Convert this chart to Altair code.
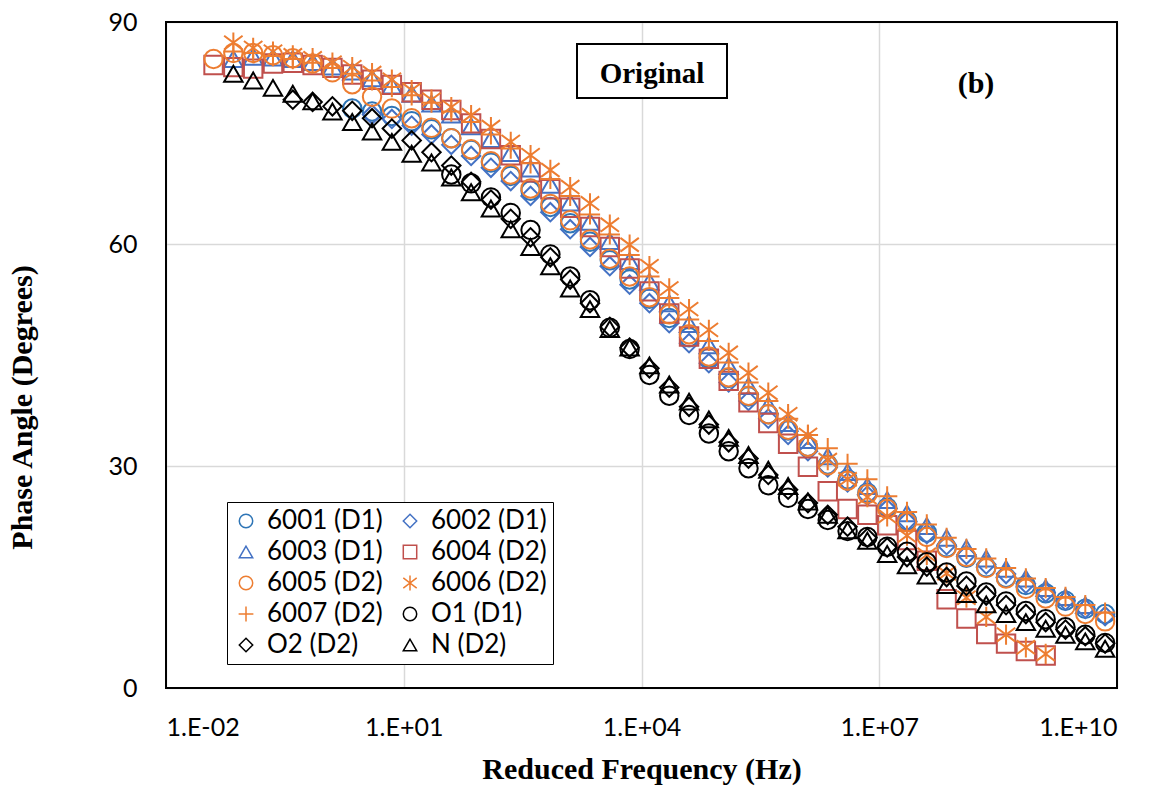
import altair as alt
import pandas as pd

# log10 of reduced frequency at the measured points (shared grid)
LOG_F = [-1.40, -1.15, -0.90, -0.65, -0.40, -0.15, 0.10, 0.35, 0.60, 0.85,
         1.10, 1.35, 1.60, 1.85, 2.10, 2.35, 2.60, 2.85, 3.10, 3.35,
         3.60, 3.85, 4.10, 4.35, 4.60, 4.85, 5.10, 5.35, 5.60, 5.85,
         6.10, 6.35, 6.60, 6.85, 7.10, 7.35, 7.60, 7.85, 8.10, 8.35,
         8.60, 8.85, 9.10, 9.35, 9.60, 9.85]

SERIES = ["6001 (D1)", "6002 (D1)", "6003 (D1)", "6004 (D2)", "6005 (D2)",
          "6006 (D2)", "6007 (D2)", "O1 (D1)", "O2 (D2)", "N (D2)"]

START = [7, 8, 1, 0, 0, 1, 1, 12, 4, 1]

Y_6001 = [78.3, 77.9, 77.3, 76.6, 75.5, 74.3, 72.7, 71.0, 69.2, 67.2, 65.0, 62.8, 60.3,
          57.8, 55.2, 52.6, 50.0, 47.4, 44.6, 41.9, 39.4, 37.0, 34.8, 32.6, 30.2, 28.2,
          26.4, 24.4, 22.6, 21.0, 19.0, 17.6, 16.3, 14.9, 13.9, 12.8, 11.8, 10.7, 10.0]
Y_6002 = [77.5, 76.9, 76.0, 74.8, 73.4, 71.9, 70.3, 68.5, 66.5, 64.3, 62.0, 59.6, 57.0,
          54.5, 52.0, 49.3, 46.6, 43.9, 41.3, 38.8, 36.4, 34.2, 32.0, 29.8, 27.8, 26.0,
          24.2, 22.5, 20.8, 19.3, 18.0, 16.7, 15.4, 14.1, 12.9, 11.8, 10.7, 9.7]
Y_6003 = [85.0, 85.3, 85.2, 85.0, 84.6, 84.0, 83.3, 82.4, 81.4, 80.3, 79.0, 77.5, 75.9,
          74.2, 72.3, 70.2, 68.0, 65.6, 63.0, 60.4, 57.7, 54.9, 52.0, 49.2, 46.3, 43.5,
          40.8, 38.2, 35.8, 33.5, 31.3, 29.2, 27.3, 25.4, 23.6, 21.9, 20.3, 18.9, 17.5,
          16.1, 14.8, 13.5, 12.3, 11.2]
Y_6004 = [84.2, 83.9, 83.7, 84.4, 84.5, 84.2, 83.8, 82.9, 82.2, 81.5, 80.5, 79.5, 78.1,
          76.3, 74.2, 72.0, 69.7, 67.4, 64.9, 62.3, 59.6, 56.7, 53.6, 50.6, 47.5, 44.5,
          41.5, 38.6, 35.8, 33.0, 29.9, 26.6, 24.2, 23.4, 22.0, 20.0, 17.2, 12.0, 9.4,
          7.3, 6.0, 5.0, 4.4]
Y_6005 = [85.0, 85.8, 85.8, 85.5, 85.1, 84.4, 83.2, 81.6, 79.9, 78.3, 77.0, 75.7, 74.3,
          72.8, 71.2, 69.4, 67.5, 65.4, 63.2, 60.6, 58.0, 55.6, 52.8, 50.5, 47.8, 44.8,
          42.0, 39.5, 37.0, 34.9, 32.6, 30.1, 28.0, 26.2, 24.2, 22.4, 20.4, 18.9, 17.7,
          16.2, 14.8, 13.4, 12.1, 11.0, 10.0, 9.0]
Y_6006 = [87.2, 86.5, 86.0, 85.5, 85.1, 84.5, 83.9, 83.1, 82.2, 80.8, 79.5, 78.5, 77.4,
          75.8, 73.8, 72.0, 70.0, 67.7, 65.5, 62.6, 59.9, 57.0, 54.0, 51.2, 48.4, 45.3,
          42.6, 39.9, 37.0, 34.2, 30.8, 28.2, 25.8, 23.2, 20.6, 18.0, 15.5, 12.2, 9.6,
          7.2, 5.5, 4.6]
Y_6007 = [86.0, 85.8, 85.4, 85.0, 84.5, 83.8, 83.0, 82.1, 81.2, 80.1, 79.1, 77.9, 76.5,
          74.8, 72.9, 70.9, 68.8, 66.5, 64.0, 61.3, 58.5, 55.6, 52.7, 49.8, 46.9, 44.0,
          41.3, 38.8, 36.4, 34.2, 32.4, 30.3, 28.2, 25.9, 23.8, 22.1, 20.3, 18.8, 17.5,
          16.2, 14.8, 13.5, 12.3, 11.2, 10.2]
Y_O1 = [69.4, 68.2, 66.3, 64.2, 61.9, 58.6, 55.6, 52.4, 48.7, 45.8, 42.3, 39.5, 36.9,
        34.4, 32.0, 29.7, 27.4, 25.7, 24.2, 22.7, 21.2, 20.4, 19.1, 18.4, 17.0, 15.6,
        14.4, 12.9, 11.7, 10.4, 9.3, 8.2, 7.2, 6.1]
Y_O2 = [79.5, 79.2, 78.6, 78.0, 77.0, 75.6, 74.0, 72.4, 70.6, 68.4, 66.0, 63.4, 60.9,
        58.2, 55.2, 52.0, 48.8, 46.0, 43.2, 40.6, 38.0, 35.6, 33.2, 31.0, 28.8, 26.8,
        25.0, 23.4, 21.8, 20.3, 19.0, 17.7, 16.4, 15.0, 13.8, 12.5, 11.2, 10.0, 8.9,
        7.9, 7.0, 6.0]
Y_N = [83.0, 82.1, 81.1, 80.3, 79.3, 77.9, 76.5, 75.2, 73.8, 72.2, 71.0, 69.0, 67.0,
       64.8, 62.0, 59.6, 57.0, 54.0, 51.2, 48.5, 46.0, 43.6, 41.0, 38.7, 36.3, 33.8,
       31.5, 29.5, 27.3, 25.2, 23.4, 21.3, 19.9, 18.1, 16.6, 15.2, 13.9, 12.7, 11.3,
       10.0, 8.9, 8.0, 7.2, 6.3, 5.3]

Y_ALL = [Y_6001, Y_6002, Y_6003, Y_6004, Y_6005, Y_6006, Y_6007, Y_O1, Y_O2, Y_N]

COLORS = ["#2E75B6", "#4472C4", "#4472C4", "#C0504D", "#ED7D31",
          "#ED7D31", "#ED7D31", "#000000", "#000000", "#000000"]
ASTERISK = "M0,-1.1L0,1.1M-1,-0.75L1,0.75M-1,0.75L1,-0.75"
PLUS = "M-1.1,0L1.1,0M0,-1.1L0,1.1"
SHAPES = ["circle", "diamond", "triangle-up", "square", "circle",
          ASTERISK, PLUS, "circle", "diamond", "triangle-up"]

X_TICKS = [1e-2, 1e1, 1e4, 1e7, 1e10]
Y_TICKS = [0, 30, 60, 90]

rows = []
for name, start, ys in zip(SERIES, START, Y_ALL):
    for i, y in enumerate(ys):
        rows.append({"series": name, "f": 10 ** LOG_F[start + i], "phase": y})
df = pd.DataFrame(rows)

label_expr = ("'1.E' + (datum.value < 1 ? '-' : '+') + "
              "(abs(round(log(datum.value)/LN10)) < 10 ? '0' : '') + "
              "abs(round(log(datum.value)/LN10))")

W, H = 951, 666

points = alt.Chart(df).mark_point(filled=False, size=340, strokeWidth=2, opacity=1).encode(
    x=alt.X("f:Q",
            scale=alt.Scale(type="log", domain=[1e-2, 1e10], nice=False),
            axis=alt.Axis(values=X_TICKS, labelExpr=label_expr,
                          title="Reduced Frequency (Hz)",
                          labelBaseline="alphabetic", labelPadding=47,
                          titleY=90, titleX=W / 2, titleBaseline="alphabetic")),
    y=alt.Y("phase:Q",
            scale=alt.Scale(domain=[0, 90], nice=False),
            axis=alt.Axis(values=Y_TICKS, title="Phase Angle (Degrees)",
                          labelPadding=29, titleX=-144, titleY=385,
                          titleAngle=270, titleBaseline="middle", titleAlign="center")),
    color=alt.Color("series:N", scale=alt.Scale(domain=SERIES, range=COLORS),
                    legend=alt.Legend(title=None, orient="none", legendX=61, legendY=480,
                                      direction="horizontal", columns=2,
                                      columnPadding=14, rowPadding=5,
                                      padding=6, strokeColor="black", fillColor="white",
                                      symbolSize=180, symbolStrokeWidth=1.5,
                                      labelFont="Lato", labelFontSize=26, labelColor="black",
                                      labelOffset=8)),
    shape=alt.Shape("series:N", scale=alt.Scale(domain=SERIES, range=SHAPES)),
)

one = alt.Data(values=[{"a": 1}])
frame = alt.Chart(one).mark_rect(fillOpacity=0, stroke="black", strokeWidth=2).encode(
    x=alt.value(0), x2=alt.value(W), y=alt.value(0), y2=alt.value(H))
box = alt.Chart(one).mark_rect(fill="white", stroke="black", strokeWidth=2).encode(
    x=alt.value(411), x2=alt.value(561), y=alt.value(22), y2=alt.value(76))
txt_orig = alt.Chart(one).mark_text(text="Original", font="Liberation Serif", fontWeight="bold",
                                    fontSize=29, align="center", baseline="alphabetic",
                                    color="black").encode(x=alt.value(486), y=alt.value(61))
txt_b = alt.Chart(one).mark_text(text="(b)", font="Liberation Serif", fontWeight="bold",
                                 fontSize=30, align="center", baseline="alphabetic",
                                 color="black").encode(x=alt.value(810), y=alt.value(71))

chart = alt.layer(points, frame, box, txt_orig, txt_b).properties(
    width=W, height=H,
    background="white",
    autosize=alt.AutoSizeParams(type="none"),
    padding={"left": 166, "top": 22, "right": 49, "bottom": 100},
).configure_view(stroke="transparent").configure_axis(
    domain=False, ticks=False, grid=True, gridColor="#D9D9D9", gridWidth=1.5,
    labelFont="Lato", labelFontSize=25, labelColor="black",
    titleFont="Liberation Serif", titleFontWeight="bold", titleFontSize=30, titleColor="black",
)

chart.save("out.html", embed_options={"renderer": "svg", "actions": False})
